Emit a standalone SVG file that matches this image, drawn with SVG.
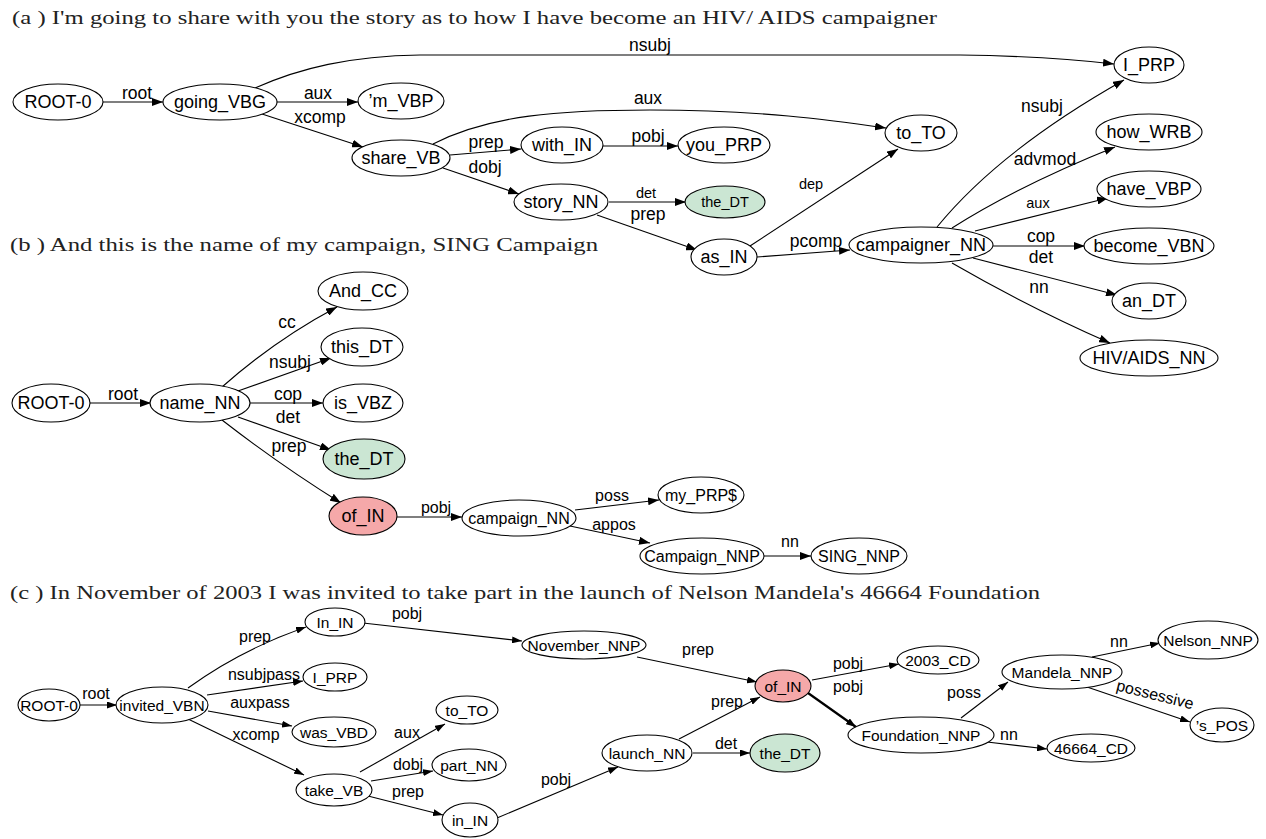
<svg xmlns="http://www.w3.org/2000/svg" width="1266" height="839" viewBox="0 0 1266 839">
<defs>
<marker id="ah" viewBox="0 0 11 8" refX="11" refY="4" markerWidth="11" markerHeight="8" markerUnits="userSpaceOnUse" orient="auto"><path d="M0,0 L11,4 L0,8 z" fill="#000"/></marker>
<marker id="ahs" viewBox="0 0 10 7" refX="10" refY="3.5" markerWidth="10" markerHeight="7" markerUnits="userSpaceOnUse" orient="auto"><path d="M0,0 L10,3.5 L0,7 z" fill="#000"/></marker>
</defs>
<style>
.title{font-family:"Liberation Serif","Times New Roman",serif;font-size:19.5px;fill:#222}
ellipse{fill:#fff;stroke:#000;stroke-width:1.1}
ellipse.g{fill:#cbe6d3}
ellipse.r{fill:#f5a8a9}
.n{font-family:"Liberation Sans",Arial,sans-serif;font-size:18px;text-anchor:middle;fill:#000}
.nb{font-family:"Liberation Sans",Arial,sans-serif;font-size:16px;text-anchor:middle;fill:#000}
.nc{font-family:"Liberation Sans",Arial,sans-serif;font-size:15.5px;text-anchor:middle;fill:#000}
.ns{font-family:"Liberation Sans",Arial,sans-serif;font-size:14.5px;text-anchor:middle;fill:#000}
.e path{fill:none;stroke:#000;stroke-width:1.1;marker-end:url(#ah)}
.ec path{fill:none;stroke:#000;stroke-width:1.1;marker-end:url(#ahs)}
.l{font-family:"Liberation Sans",Arial,sans-serif;font-size:17.5px;text-anchor:middle;fill:#000}
.lc{font-family:"Liberation Sans",Arial,sans-serif;font-size:16px;text-anchor:middle;fill:#000}
.ls{font-family:"Liberation Sans",Arial,sans-serif;font-size:14.5px;text-anchor:middle;fill:#000}
</style>
<text class="title" x="12" y="24" textLength="925" lengthAdjust="spacingAndGlyphs">(a ) I'm going to share with you the story as to how I have become an HIV/ AIDS campaigner</text>
<text class="title" x="10" y="251" textLength="588" lengthAdjust="spacingAndGlyphs">(b ) And this is the name of my campaign, SING Campaign</text>
<text class="title" x="10" y="599" textLength="1030" lengthAdjust="spacingAndGlyphs">(c ) In November of 2003 I was invited to take part in the launch of Nelson Mandela's 46664 Foundation</text>

<g id="connectors-a" class="e">
<path d="M103,102 L163,102"/>
<path d="M277,102 L358,102"/>
<path d="M262,114 L363,147"/>
<path d="M255,88 C300,68 350,56 420,55 L960,55 C1040,56 1080,60 1114,64"/>
<path d="M433,144 C490,115 560,110 650,110 C760,110 830,120 886,128"/>
<path d="M450,155 L521,149"/>
<path d="M443,168 L519,194"/>
<path d="M603,146 L678,146"/>
<path d="M609,202 L686,202"/>
<path d="M597,215 L697,250"/>
<path d="M750,246 L898,149"/>
<path d="M757,257 L850,250"/>
<path d="M937,227 Q1000,150 1124,80"/>
<path d="M952,228 Q1020,185 1115,147"/>
<path d="M975,231 L1108,198"/>
<path d="M993,246 L1085,246"/>
<path d="M973,258 L1117,295"/>
<path d="M952,263 Q1030,308 1110,343"/>
<text class="l" x="137" y="99">root</text>
<text class="l" x="318" y="99">aux</text>
<text class="l" x="320" y="123">xcomp</text>
<text class="l" x="650" y="51">nsubj</text>
<text class="l" x="648" y="104">aux</text>
<text class="l" x="486" y="148">prep</text>
<text class="l" x="485" y="173">dobj</text>
<text class="l" x="648" y="142">pobj</text>
<text class="ls" x="646" y="198">det</text>
<text class="l" x="648" y="220">prep</text>
<text class="ls" x="811" y="189">dep</text>
<text class="l" x="816" y="247">pcomp</text>
<text class="l" x="1042" y="112">nsubj</text>
<text class="l" x="1045" y="165">advmod</text>
<text class="ls" x="1038" y="208">aux</text>
<text class="l" x="1041" y="242">cop</text>
<text class="l" x="1041" y="263">det</text>
<text class="l" x="1039" y="293">nn</text>
</g>

<g id="a-root"><ellipse cx="58" cy="102" rx="45" ry="18"/><text class="n" x="58" y="108">ROOT-0</text></g>
<g id="a-going"><ellipse cx="220" cy="102" rx="57" ry="18"/><text class="n" x="220" y="108">going_VBG</text></g>
<g id="a-m"><ellipse cx="401" cy="101" rx="43" ry="18"/><text class="n" x="401" y="107">’m_VBP</text></g>
<g id="a-share"><ellipse cx="401" cy="158" rx="49" ry="18"/><text class="n" x="401" y="164">share_VB</text></g>
<g id="a-with"><ellipse cx="562" cy="145" rx="41" ry="18"/><text class="n" x="562" y="151">with_IN</text></g>
<g id="a-you"><ellipse cx="724" cy="145" rx="46" ry="18"/><text class="n" x="724" y="151">you_PRP</text></g>
<g id="a-story"><ellipse cx="561" cy="202" rx="47" ry="18"/><text class="n" x="561" y="208">story_NN</text></g>
<g id="a-the"><ellipse class="g" cx="725" cy="202" rx="40" ry="16"/><text class="ns" x="725" y="207">the_DT</text></g>
<g id="a-as"><ellipse cx="724" cy="257" rx="33" ry="18"/><text class="n" x="724" y="263">as_IN</text></g>
<g id="a-to"><ellipse cx="921" cy="133" rx="36" ry="18"/><text class="n" x="921" y="139">to_TO</text></g>
<g id="a-campaigner"><ellipse cx="921" cy="245" rx="72" ry="18"/><text class="n" x="921" y="251">campaigner_NN</text></g>
<g id="a-i"><ellipse cx="1149" cy="65" rx="35" ry="18"/><text class="n" x="1149" y="71">I_PRP</text></g>
<g id="a-how"><ellipse cx="1149" cy="132" rx="53" ry="18"/><text class="n" x="1149" y="138">how_WRB</text></g>
<g id="a-have"><ellipse cx="1149" cy="189" rx="52" ry="18"/><text class="n" x="1149" y="195">have_VBP</text></g>
<g id="a-become"><ellipse cx="1149" cy="246" rx="65" ry="18"/><text class="n" x="1149" y="252">become_VBN</text></g>
<g id="a-an"><ellipse cx="1149" cy="301" rx="37" ry="18"/><text class="n" x="1149" y="307">an_DT</text></g>
<g id="a-hiv"><ellipse cx="1149" cy="358" rx="69" ry="18"/><text class="n" x="1149" y="364">HIV/AIDS_NN</text></g>

<g id="connectors-b" class="e">
<path d="M90,403 L151,403"/>
<path d="M222,387 Q275,340 337,307"/>
<path d="M238,391 L331,358"/>
<path d="M250,403 L323,403"/>
<path d="M238,417 L331,450"/>
<path d="M222,420 Q280,465 341,503"/>
<path d="M397,517 L462,517"/>
<path d="M575,510 L659,500"/>
<path d="M570,526 L650,543"/>
<path d="M764,556 L811,556"/>
<text class="l" x="123" y="400">root</text>
<text class="l" x="287" y="328">cc</text>
<text class="l" x="290" y="368">nsubj</text>
<text class="l" x="288" y="400">cop</text>
<text class="l" x="288" y="423">det</text>
<text class="l" x="289" y="452">prep</text>
<text class="lc" x="436" y="513">pobj</text>
<text class="lc" x="612" y="501">poss</text>
<text class="lc" x="614" y="530">appos</text>
<text class="lc" x="790" y="547">nn</text>
</g>

<g id="b-root"><ellipse cx="51" cy="403" rx="39" ry="19"/><text class="n" x="51" y="409">ROOT-0</text></g>
<g id="b-name"><ellipse cx="200" cy="403" rx="50" ry="19"/><text class="n" x="200" y="409">name_NN</text></g>
<g id="b-and"><ellipse cx="363" cy="291" rx="45" ry="19"/><text class="n" x="363" y="297">And_CC</text></g>
<g id="b-this"><ellipse cx="362" cy="347" rx="41" ry="19"/><text class="n" x="362" y="353">this_DT</text></g>
<g id="b-is"><ellipse cx="363" cy="403" rx="40" ry="19"/><text class="n" x="363" y="409">is_VBZ</text></g>
<g id="b-the"><ellipse class="g" cx="364" cy="459" rx="41" ry="20"/><text class="n" x="364" y="465">the_DT</text></g>
<g id="b-of"><ellipse class="r" cx="363" cy="516" rx="34" ry="19"/><text class="n" x="363" y="522">of_IN</text></g>
<g id="b-campaign"><ellipse cx="519" cy="518" rx="57" ry="18"/><text class="nb" x="519" y="524">campaign_NN</text></g>
<g id="b-my"><ellipse cx="701" cy="495" rx="43" ry="18"/><text class="nb" x="701" y="501">my_PRP$</text></g>
<g id="b-Campaign"><ellipse cx="702" cy="556" rx="62" ry="18"/><text class="nb" x="702" y="562">Campaign_NNP</text></g>
<g id="b-sing"><ellipse cx="859" cy="556" rx="48" ry="18"/><text class="nb" x="859" y="562">SING_NNP</text></g>

<g id="connectors-c" class="ec">
<path d="M80,705 L117,705"/>
<path d="M188,688 Q240,650 306,627"/>
<path d="M207,695 L303,681"/>
<path d="M208,711 L292,726"/>
<path d="M188,719 L304,775"/>
<path d="M360,772 L445,724"/>
<path d="M371,781 L433,771"/>
<path d="M368,796 L443,815"/>
<path d="M363,623 L522,641"/>
<path d="M497,818 L618,767"/>
<path d="M637,657 L757,682"/>
<path d="M679,739 L760,697"/>
<path d="M693,753 L750,753"/>
<path d="M812,680 L899,664"/>
<path d="M808,693 L856,727" style="stroke-width:2.2"/>
<path d="M961,718 L1008,682"/>
<path d="M987,742 L1047,749"/>
<path d="M1092,657 L1160,643"/>
<path d="M1087,687 L1190,722"/>
<text class="lc" x="96" y="699">root</text>
<text class="lc" x="255" y="642">prep</text>
<text class="lc" x="264" y="680">nsubjpass</text>
<text class="lc" x="260" y="708">auxpass</text>
<text class="lc" x="256" y="740">xcomp</text>
<text class="lc" x="407" y="738">aux</text>
<text class="lc" x="408" y="770">dobj</text>
<text class="lc" x="408" y="797">prep</text>
<text class="lc" x="407" y="619">pobj</text>
<text class="lc" x="556" y="785">pobj</text>
<text class="lc" x="698" y="655">prep</text>
<text class="lc" x="727" y="707">prep</text>
<text class="lc" x="726" y="749">det</text>
<text class="lc" x="848" y="669">pobj</text>
<text class="lc" x="848" y="692">pobj</text>
<text class="lc" x="964" y="698">poss</text>
<text class="lc" x="1009" y="740">nn</text>
<text class="lc" x="1119" y="647">nn</text>
<text class="lc" x="1155" y="700" transform="rotate(14 1155 695)">possessive</text>
</g>

<g id="c-root"><ellipse cx="49" cy="705" rx="31" ry="16"/><text class="nc" x="49" y="711">ROOT-0</text></g>
<g id="c-invited"><ellipse cx="162" cy="705" rx="46" ry="18"/><text class="nc" x="162" y="711">invited_VBN</text></g>
<g id="c-In"><ellipse cx="335" cy="622" rx="30" ry="14"/><text class="nc" x="335" y="628">In_IN</text></g>
<g id="c-I"><ellipse cx="335" cy="677" rx="32" ry="14"/><text class="nc" x="335" y="683">I_PRP</text></g>
<g id="c-was"><ellipse cx="334" cy="732" rx="42" ry="15"/><text class="nc" x="334" y="738">was_VBD</text></g>
<g id="c-take"><ellipse cx="334" cy="790" rx="38" ry="16"/><text class="nc" x="334" y="796">take_VB</text></g>
<g id="c-to"><ellipse cx="467" cy="710" rx="31" ry="14"/><text class="nc" x="467" y="716">to_TO</text></g>
<g id="c-part"><ellipse cx="469" cy="765" rx="37" ry="16"/><text class="nc" x="469" y="771">part_NN</text></g>
<g id="c-in"><ellipse cx="470" cy="820" rx="28" ry="17"/><text class="nc" x="470" y="826">in_IN</text></g>
<g id="c-november"><ellipse cx="584" cy="645" rx="62" ry="14"/><text class="nc" x="584" y="651">November_NNP</text></g>
<g id="c-launch"><ellipse cx="647" cy="753" rx="45" ry="18"/><text class="nc" x="647" y="759">launch_NN</text></g>
<g id="c-of"><ellipse class="r" cx="783" cy="686" rx="28" ry="16"/><text class="nc" x="783" y="692">of_IN</text></g>
<g id="c-the"><ellipse class="g" cx="785" cy="753" rx="35" ry="19"/><text class="nc" x="785" y="759">the_DT</text></g>
<g id="c-2003"><ellipse cx="938" cy="660" rx="41" ry="14"/><text class="nc" x="938" y="666">2003_CD</text></g>
<g id="c-mandela"><ellipse cx="1062" cy="672" rx="60" ry="17"/><text class="nc" x="1062" y="678">Mandela_NNP</text></g>
<g id="c-nelson"><ellipse cx="1208" cy="640" rx="50" ry="19"/><text class="nc" x="1208" y="646">Nelson_NNP</text></g>
<g id="c-foundation"><ellipse cx="921" cy="735" rx="73" ry="18"/><text class="nc" x="921" y="741">Foundation_NNP</text></g>
<g id="c-46664"><ellipse cx="1091" cy="748" rx="44" ry="14"/><text class="nc" x="1091" y="754">46664_CD</text></g>
<g id="c-pos"><ellipse cx="1222" cy="725" rx="32" ry="17"/><text class="nc" x="1222" y="731">’s_POS</text></g>
</svg>
